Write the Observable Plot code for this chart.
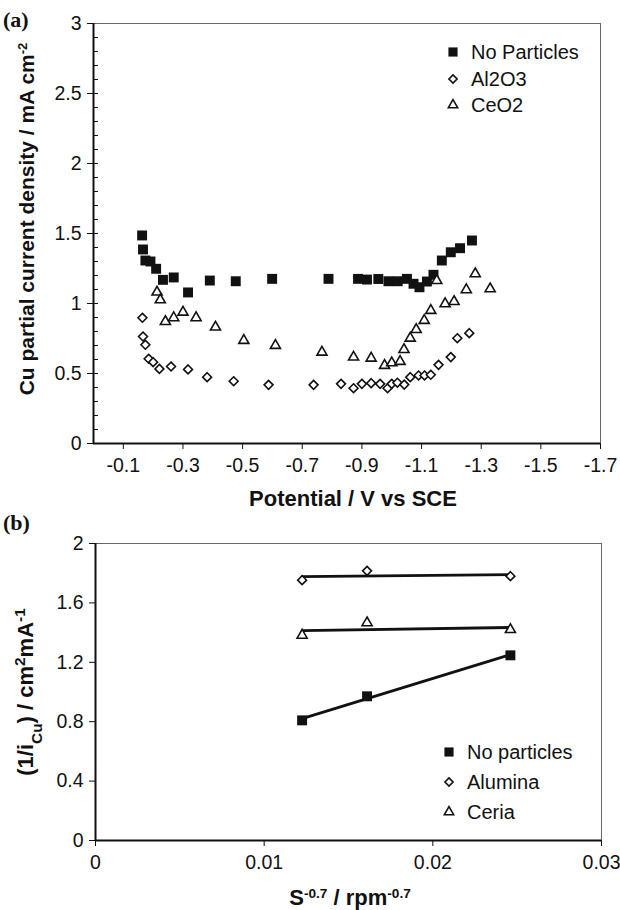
<!DOCTYPE html>
<html>
<head>
<meta charset="utf-8">
<script src="https://cdn.jsdelivr.net/npm/d3@7"></script>
<script src="https://cdn.jsdelivr.net/npm/@observablehq/plot@0.6"></script>
<style>
  body { margin: 0; background: #fff; }
  #wrap { position: relative; width: 620px; height: 910px; overflow: hidden; background: #fff;
          font-family: "Liberation Sans", Arial, Helvetica, sans-serif; color: #111; }
  .panel { position: absolute; left: 0; }
  .lg { position: absolute; font-size: 20px; line-height: 1; }
  .lg .row { position: absolute; display: flex; align-items: center; white-space: nowrap; }
  .lg svg { overflow: visible; }
</style>
</head>
<body>
<div id="wrap"></div>
<script>
// ---------- Panel (a) data: Cu partial current density vs potential ----------
const seriesA = ["No Particles", "Al2O3", "CeO2"];
const noPartPotential = [-0.163,-0.166,-0.174,-0.191,-0.21,-0.233,-0.269,-0.317,-0.39,-0.477,-0.599,-0.788,-0.887,-0.917,-0.955,-0.989,-1.02,-1.051,-1.073,-1.093,-1.118,-1.14,-1.168,-1.198,-1.229,-1.269];
const noPartCurrent   = [1.486,1.386,1.307,1.30,1.248,1.169,1.186,1.079,1.164,1.159,1.176,1.176,1.176,1.171,1.175,1.159,1.159,1.176,1.141,1.116,1.157,1.205,1.307,1.366,1.395,1.45];
const al2o3Potential  = [-0.164,-0.166,-0.174,-0.185,-0.2,-0.221,-0.26,-0.317,-0.381,-0.47,-0.587,-0.738,-0.83,-0.872,-0.9,-0.931,-0.961,-0.986,-1.0,-1.019,-1.042,-1.062,-1.09,-1.11,-1.131,-1.157,-1.198,-1.22,-1.26];
const al2o3Current    = [0.898,0.764,0.705,0.605,0.581,0.533,0.55,0.529,0.474,0.445,0.419,0.419,0.426,0.395,0.426,0.431,0.426,0.395,0.426,0.434,0.421,0.474,0.486,0.486,0.491,0.562,0.617,0.752,0.788];
const ceo2Potential   = [-0.213,-0.224,-0.241,-0.269,-0.30,-0.344,-0.409,-0.504,-0.61,-0.766,-0.872,-0.931,-0.976,-1.0,-1.028,-1.041,-1.062,-1.082,-1.109,-1.131,-1.151,-1.179,-1.209,-1.25,-1.28,-1.33];
const ceo2Current     = [1.081,1.026,0.871,0.898,0.938,0.898,0.831,0.736,0.70,0.652,0.617,0.609,0.557,0.576,0.586,0.671,0.752,0.814,0.879,0.95,1.164,0.998,1.014,1.098,1.212,1.105];
const xTicksA = [-0.1,-0.3,-0.5,-0.7,-0.9,-1.1,-1.3,-1.5,-1.7];
const yTicksA = [0,0.5,1,1.5,2,2.5,3];
const yMinorA = [0.1,0.2,0.3,0.4,0.5,0.6,0.7,0.8,0.9,1,1.1,1.2,1.3,1.4,1.5,1.6,1.7,1.8,1.9,2,2.1,2.2,2.3,2.4,2.5,2.6,2.7,2.8,2.9];

// ---------- Panel (b) data: 1/i_Cu vs S^-0.7 ----------
const seriesB = ["No particles", "Alumina", "Ceria"];
const rotationTerm = [0.01225, 0.0161, 0.0246];
const invNoPart  = [0.809, 0.971, 1.247];
const invAlumina = [1.753, 1.816, 1.780];
const invCeria   = [1.382, 1.466, 1.420];
const xTicksB = [0, 0.01, 0.02, 0.03];
const yTicksB = [0, 0.4, 0.8, 1.2, 1.6, 2];

const FONT = '"Liberation Sans", Arial, Helvetica, sans-serif';
const INK = "#111";
const fmt = d => String(d);

const rows = (xs, ys) => xs.map((x, i) => ({x, y: ys[i]}));
const dataNoP = rows(noPartPotential, noPartCurrent);
const dataAl  = rows(al2o3Potential, al2o3Current);
const dataCe  = rows(ceo2Potential, ceo2Current);
const bNoP = rows(rotationTerm, invNoPart);
const bAl  = rows(rotationTerm, invAlumina);
const bCe  = rows(rotationTerm, invCeria);

const symStyle = {
  square:   {symbol: "square",    r: 5.6, fill: INK, stroke: "none"},
  diamond:  {symbol: "diamond2",  r: 4.0, fill: "white", stroke: INK, strokeWidth: 1.6},
  triangle: {symbol: "triangle2", r: 4.8, fill: "white", stroke: INK, strokeWidth: 1.6}
};

const wrap = document.getElementById("wrap");

// ---------- Panel (a) ----------
const plotA = Plot.plot({
  width: 620, height: 510,
  marginLeft: 93, marginRight: 20, marginTop: 23, marginBottom: 67,
  style: {fontFamily: FONT, fontSize: "19.5px", color: INK, background: "white", overflow: "visible"},
  x: {domain: [0, -1.7]},
  y: {domain: [0, 3]},
  marks: [
    Plot.ruleY([3], {stroke: "#666", strokeWidth: 1}),
    Plot.ruleX([-1.7], {stroke: "#666", strokeWidth: 1}),
    Plot.axisX({ticks: xTicksA, tickFormat: fmt, tickSize: 6, tickPadding: 9, label: null}),
    Plot.axisY({ticks: yTicksA, tickFormat: fmt, tickSize: 6, tickPadding: 6, label: null}),
    Plot.axisY({ticks: yMinorA, tickFormat: () => "", tickSize: 5, dx: 5, label: null}),
    Plot.ruleX([0], {stroke: INK, strokeWidth: 2}),
    Plot.ruleY([0], {stroke: INK, strokeWidth: 2}),
    Plot.dot(dataNoP, {x: "x", y: "y", ...symStyle.square}),
    Plot.dot(dataAl,  {x: "x", y: "y", ...symStyle.diamond}),
    Plot.dot(dataCe,  {x: "x", y: "y", ...symStyle.triangle})
  ]
});
plotA.classList.add("panel");
plotA.style.top = "0px";
wrap.appendChild(plotA);

// ---------- Panel (b) ----------
const plotB = Plot.plot({
  width: 620, height: 400,
  marginLeft: 95, marginRight: 19, marginTop: 33, marginBottom: 70,
  style: {fontFamily: FONT, fontSize: "19.5px", color: INK, background: "white", overflow: "visible"},
  x: {domain: [0, 0.03]},
  y: {domain: [0, 2]},
  marks: [
    Plot.ruleY([2], {stroke: "#666", strokeWidth: 1}),
    Plot.ruleX([0.03], {stroke: "#666", strokeWidth: 1}),
    Plot.axisX({ticks: xTicksB, tickFormat: fmt, tickSize: 6, tickPadding: 9, label: null}),
    Plot.axisY({ticks: yTicksB, tickFormat: fmt, tickSize: 6, tickPadding: 6, label: null}),
    Plot.ruleX([0], {stroke: INK, strokeWidth: 2}),
    Plot.ruleY([0], {stroke: INK, strokeWidth: 2}),
    Plot.linearRegressionY(bNoP, {x: "x", y: "y", stroke: INK, strokeWidth: 2.8, ci: 0}),
    Plot.linearRegressionY(bAl,  {x: "x", y: "y", stroke: INK, strokeWidth: 2.8, ci: 0}),
    Plot.linearRegressionY(bCe,  {x: "x", y: "y", stroke: INK, strokeWidth: 2.8, ci: 0}),
    Plot.dot(bNoP, {x: "x", y: "y", ...symStyle.square}),
    Plot.dot(bAl,  {x: "x", y: "y", ...symStyle.diamond}),
    Plot.dot(bCe,  {x: "x", y: "y", ...symStyle.triangle})
  ]
});
plotB.classList.add("panel");
plotB.style.top = "510px";
wrap.appendChild(plotB);

// ---------- Titles (with super/subscripts) ----------
function addText(svg, x, y, parts, {rotate = 0, size = 22, weight = "bold", anchor = "middle", family = FONT, scriptScale = 0.62} = {}) {
  const t = d3.select(svg).append("text")
    .attr("transform", `translate(${x},${y}) rotate(${rotate})`)
    .attr("text-anchor", anchor)
    .attr("font-family", family)
    .attr("font-size", size)
    .attr("font-weight", weight)
    .attr("fill", INK);
  for (const p of parts) {
    const s = t.append("tspan").text(p.t);
    if (p.sup) s.attr("font-size", size * scriptScale).attr("baseline-shift", "super");
    if (p.sub) s.attr("font-size", size * scriptScale).attr("baseline-shift", "sub");
  }
  return t;
}
addText(plotA, 34, 219, [{t: "Cu partial current density / mA cm"}, {t: "-2", sup: true}], {rotate: -90, size: 21});
addText(plotA, 353, 506, [{t: "Potential / V vs SCE"}], {size: 22});
addText(plotA, 3, 27, [{t: "(a)"}], {anchor: "start", size: 22, family: '"Liberation Serif", "Times New Roman", serif'});

addText(plotB, 33, 182, [{t: "(1/i"}, {t: "Cu", sub: true}, {t: ") / cm"}, {t: "2", sup: true}, {t: "mA"}, {t: "-1", sup: true}], {rotate: -90, size: 22, scriptScale: 0.7});
addText(plotB, 350, 395, [{t: "S"}, {t: "-0.7", sup: true}, {t: " / rpm"}, {t: "-0.7", sup: true}], {size: 22});
addText(plotB, 3, 20, [{t: "(b)"}], {anchor: "start", size: 22, family: '"Liberation Serif", "Times New Roman", serif'});

// ---------- Legends ----------
function legend(names, styles, symX, textX, ys) {
  const box = document.createElement("div");
  box.className = "lg";
  names.forEach((name, i) => {
    const st = styles[i];
    const size = Math.PI * st.r * st.r;
    const sym = {square: d3.symbolSquare, diamond2: d3.symbolDiamond2, triangle2: d3.symbolTriangle2}[st.symbol];
    const row = document.createElement("div");
    row.className = "row";
    row.style.left = (symX - 8) + "px";
    row.style.top = (ys[i] - 12) + "px";
    row.style.height = "24px";
    const svg = d3.create("svg").attr("width", 16).attr("height", 24);
    svg.append("path").attr("transform", "translate(8,12)")
      .attr("d", d3.symbol(sym, size * 0.85)())
      .attr("fill", st.fill).attr("stroke", st.stroke).attr("stroke-width", st.strokeWidth || 0);
    row.appendChild(svg.node());
    const label = document.createElement("span");
    label.textContent = name;
    label.style.marginLeft = (textX - symX - 8) + "px";
    row.appendChild(label);
    box.appendChild(row);
  });
  wrap.appendChild(box);
}
const styleList = [symStyle.square, symStyle.diamond, symStyle.triangle];
legend(seriesA, styleList, 453, 471, [52, 79, 105]);
legend(seriesB, styleList, 449, 467, [752, 782, 812]);
</script>
</body>
</html>
